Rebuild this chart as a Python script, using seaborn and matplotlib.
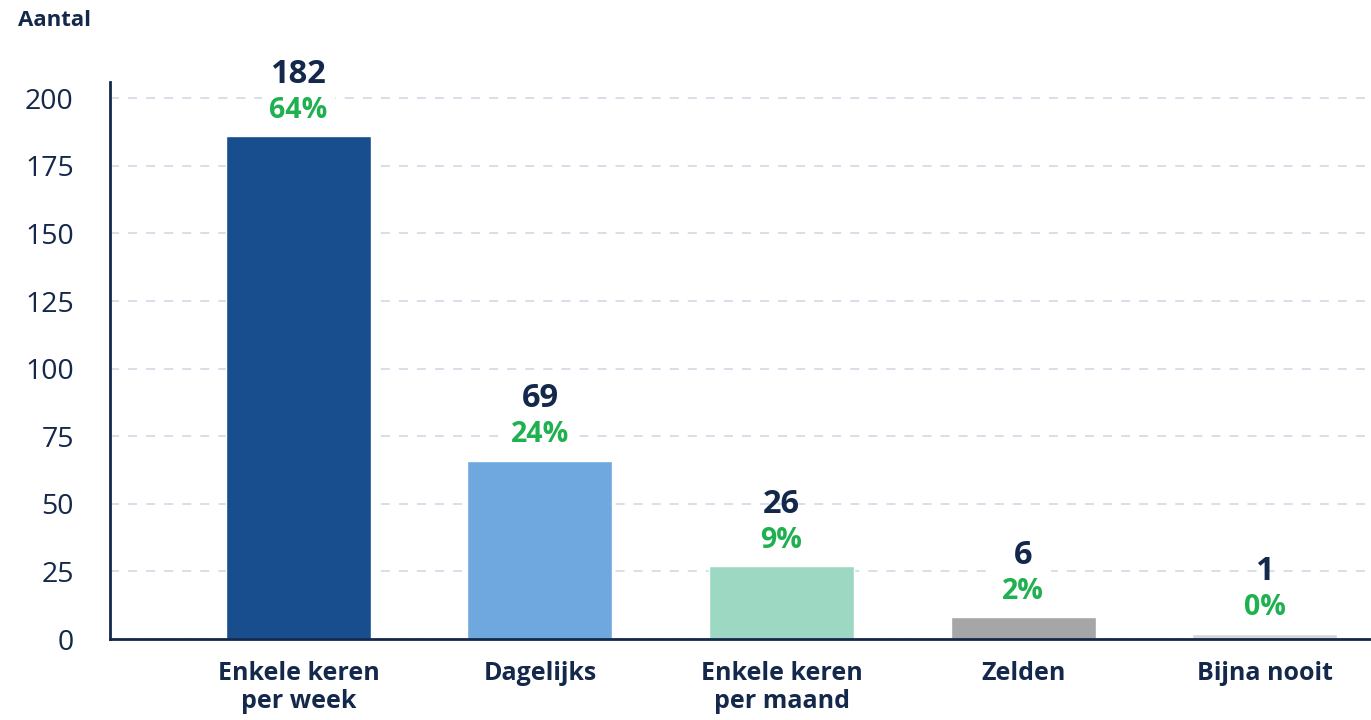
import pandas as pd
import matplotlib.pyplot as plt
import seaborn as sns

# Data
categories = ['Enkele keren\nper week', 'Dagelijks', 'Enkele keren\nper maand', 'Zelden', 'Bijna nooit']
counts = [182, 69, 26, 6, 1]
percentages = ['64%', '24%', '9%', '2%', '0%']
bar_heights = [186, 66, 27, 8, 2]
bar_colors = ['#184e8e', '#6fa8de', '#9dd9c2', '#a6a6a6', '#d6d6d6']
y_ticks = [0, 25, 50, 75, 100, 125, 150, 175, 200]

df = pd.DataFrame({'categorie': categories, 'hoogte': bar_heights})

navy = '#14284b'
green = '#1fb050'

sns.set_style('white')
plt.rcParams['font.family'] = ['Open Sans', 'DejaVu Sans']

fig = plt.figure(figsize=(13.71, 7.2), dpi=100)
ax = fig.add_axes([0.0802, 0.1125, 0.9198, 0.7735])

sns.barplot(data=df, x='categorie', y='hoogte', hue='categorie', palette=bar_colors,
            legend=False, width=0.6, saturation=1, ax=ax, zorder=3)

ax.set_ylim(0, 206)
ax.set_xlim(-0.78, 4.44)
ax.set_yticks(y_ticks)
ax.yaxis.grid(True, linestyle=(0, (5, 5)), color='#d5dce8', linewidth=1.3, zorder=0)
ax.set_axisbelow(True)

for side in ['top', 'right']:
    ax.spines[side].set_visible(False)
for side in ['left', 'bottom']:
    ax.spines[side].set_color(navy)
    ax.spines[side].set_linewidth(2)
    ax.spines[side].set_zorder(4)

ax.tick_params(axis='both', length=0)
ax.tick_params(axis='y', labelsize=20.5, labelcolor=navy, pad=26)
ax.tick_params(axis='x', labelsize=18, labelcolor=navy, pad=16)
for lbl in ax.get_xticklabels():
    lbl.set_fontweight('bold')
    lbl.set_linespacing(1.15)
ax.set_xlabel('')
ax.set_ylabel('')

# Value labels above bars
for i, (h, c, p) in enumerate(zip(bar_heights, counts, percentages)):
    ax.annotate(str(c), (i, h), xytext=(0, 62), textcoords='offset pixels',
                ha='center', va='center', fontsize=23.5, fontweight='bold', color=navy)
    ax.annotate(p, (i, h), xytext=(0, 26), textcoords='offset pixels',
                ha='center', va='center', fontsize=20.5, fontweight='bold', color=green,
                bbox=dict(boxstyle='square,pad=0.25', fc='white', ec='none'))

fig.text(0.013, 0.972, 'Aantal', fontsize=16, fontweight='bold', color=navy,
         ha='left', va='center')

fig.savefig('out.png', dpi=100)
